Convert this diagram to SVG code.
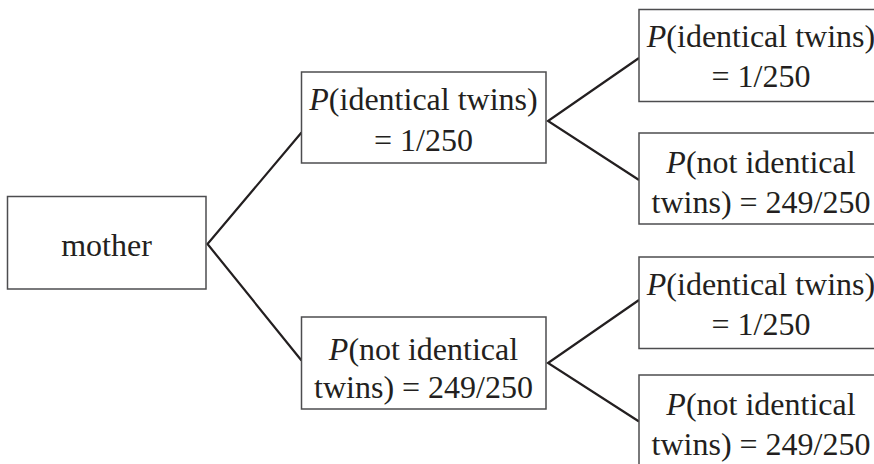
<svg xmlns="http://www.w3.org/2000/svg" width="874" height="464" viewBox="0 0 874 464">
<style>
.box{fill:#fff;stroke:#4d4d4f;stroke-width:1.5}
.t{font-size:32px;fill:#231f20;text-anchor:middle}
.i{font-style:italic}
.c{fill:none;stroke:#231f20;stroke-width:2.2;stroke-linejoin:miter}
</style>
<rect width="874" height="464" fill="#fff"/>
<g id="connectors">
<polyline class="c" points="301.5,132.5 207.5,244 301.5,360.5"/>
<polyline class="c" points="639,58 548,121 639,180"/>
<polyline class="c" points="639,300 548,363 639,421.5"/>
</g>
<g font-family="'Liberation Serif', 'DejaVu Serif', serif">
<g id="mother">
<rect class="box" x="7.5" y="196.5" width="198.5" height="92.5"/>
<text class="t" x="106.5" y="256">mother</text>
</g>
<g id="mid-identical">
<rect class="box" x="301.5" y="72" width="244.5" height="91"/>
<text class="t" x="423.5" y="110"><tspan class="i">P</tspan>(identical twins)</text>
<text class="t" x="423.5" y="151">= 1/250</text>
</g>
<g id="mid-not-identical">
<rect class="box" x="301.5" y="317" width="244.5" height="92"/>
<text class="t" x="423.5" y="359.5"><tspan class="i">P</tspan>(not identical</text>
<text class="t" x="423.5" y="398">twins) = 249/250</text>
</g>
<g id="right-1">
<rect class="box" x="639" y="9.5" width="244.5" height="92"/>
<text class="t" x="761" y="47"><tspan class="i">P</tspan>(identical twins)</text>
<text class="t" x="761" y="87">= 1/250</text>
</g>
<g id="right-2">
<rect class="box" x="639" y="133" width="244.5" height="91"/>
<text class="t" x="761" y="173"><tspan class="i">P</tspan>(not identical</text>
<text class="t" x="761" y="213">twins) = 249/250</text>
</g>
<g id="right-3">
<rect class="box" x="639" y="257" width="244.5" height="91.5"/>
<text class="t" x="761" y="295"><tspan class="i">P</tspan>(identical twins)</text>
<text class="t" x="761" y="335">= 1/250</text>
</g>
<g id="right-4">
<rect class="box" x="639" y="375" width="244.5" height="92"/>
<text class="t" x="761" y="415"><tspan class="i">P</tspan>(not identical</text>
<text class="t" x="761" y="455">twins) = 249/250</text>
</g>
</g>
</svg>
